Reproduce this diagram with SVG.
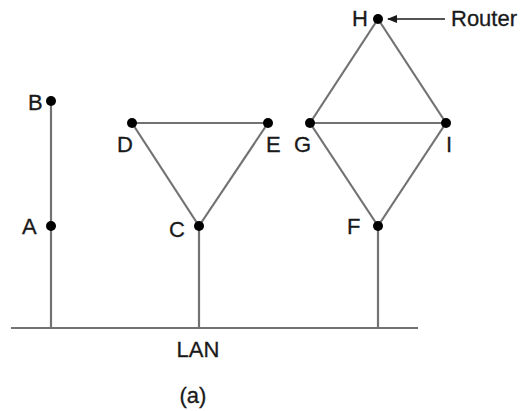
<svg xmlns="http://www.w3.org/2000/svg" width="527" height="411" viewBox="0 0 527 411">
<defs>
<style>
.l{stroke:#727272;stroke-width:2.2;fill:none}
.d{fill:#000}
text{font-family:"Liberation Sans",Arial,sans-serif;font-size:22px;fill:#1a1a1a;stroke:#1a1a1a;stroke-width:0.3}
</style>
<marker id="ah" markerWidth="10" markerHeight="8" refX="9" refY="4" orient="auto" markerUnits="userSpaceOnUse">
<path d="M0,0 L10,4 L0,8 Z" fill="#1a1a1a"/>
</marker>
</defs>
<rect width="527" height="411" fill="#fff"/>
<g id="connectors">
<line class="l" x1="11" y1="328" x2="418" y2="328"/>
<line class="l" x1="51" y1="101" x2="51" y2="328"/>
<line class="l" x1="199" y1="226" x2="199" y2="328"/>
<line class="l" x1="378" y1="226" x2="378" y2="328"/>
<line class="l" x1="132" y1="123" x2="268" y2="123"/>
<line class="l" x1="132" y1="123" x2="199" y2="226"/>
<line class="l" x1="268" y1="123" x2="199" y2="226"/>
<line class="l" x1="310" y1="123" x2="446" y2="123"/>
<line class="l" x1="310" y1="123" x2="378" y2="226"/>
<line class="l" x1="446" y1="123" x2="378" y2="226"/>
<line class="l" x1="310" y1="123" x2="378" y2="19"/>
<line class="l" x1="446" y1="123" x2="378" y2="19"/>
<line x1="445" y1="19" x2="388" y2="19" stroke="#1a1a1a" stroke-width="1.5" marker-end="url(#ah)"/>
</g>
<g id="B"><circle class="d" cx="51" cy="101" r="5"/><text x="28" y="110">B</text></g>
<g id="A"><circle class="d" cx="51" cy="226" r="5"/><text x="22" y="234">A</text></g>
<g id="D"><circle class="d" cx="132" cy="123" r="5"/><text x="117" y="152">D</text></g>
<g id="E"><circle class="d" cx="268" cy="123" r="5"/><text x="266" y="152">E</text></g>
<g id="C"><circle class="d" cx="199" cy="226" r="5"/><text x="169" y="237">C</text></g>
<g id="G"><circle class="d" cx="310" cy="123" r="5"/><text x="294" y="152">G</text></g>
<g id="I"><circle class="d" cx="446" cy="123" r="5"/><text x="446" y="152">I</text></g>
<g id="F"><circle class="d" cx="378" cy="226" r="5"/><text x="347" y="234">F</text></g>
<g id="H"><circle class="d" cx="378" cy="19" r="5"/><text x="352" y="26">H</text></g>
<g id="Router"><text x="451" y="26">Router</text></g>
<g id="LAN"><text x="198" y="357" text-anchor="middle">LAN</text></g>
<g id="caption"><text x="193" y="403" text-anchor="middle">(a)</text></g>
</svg>
